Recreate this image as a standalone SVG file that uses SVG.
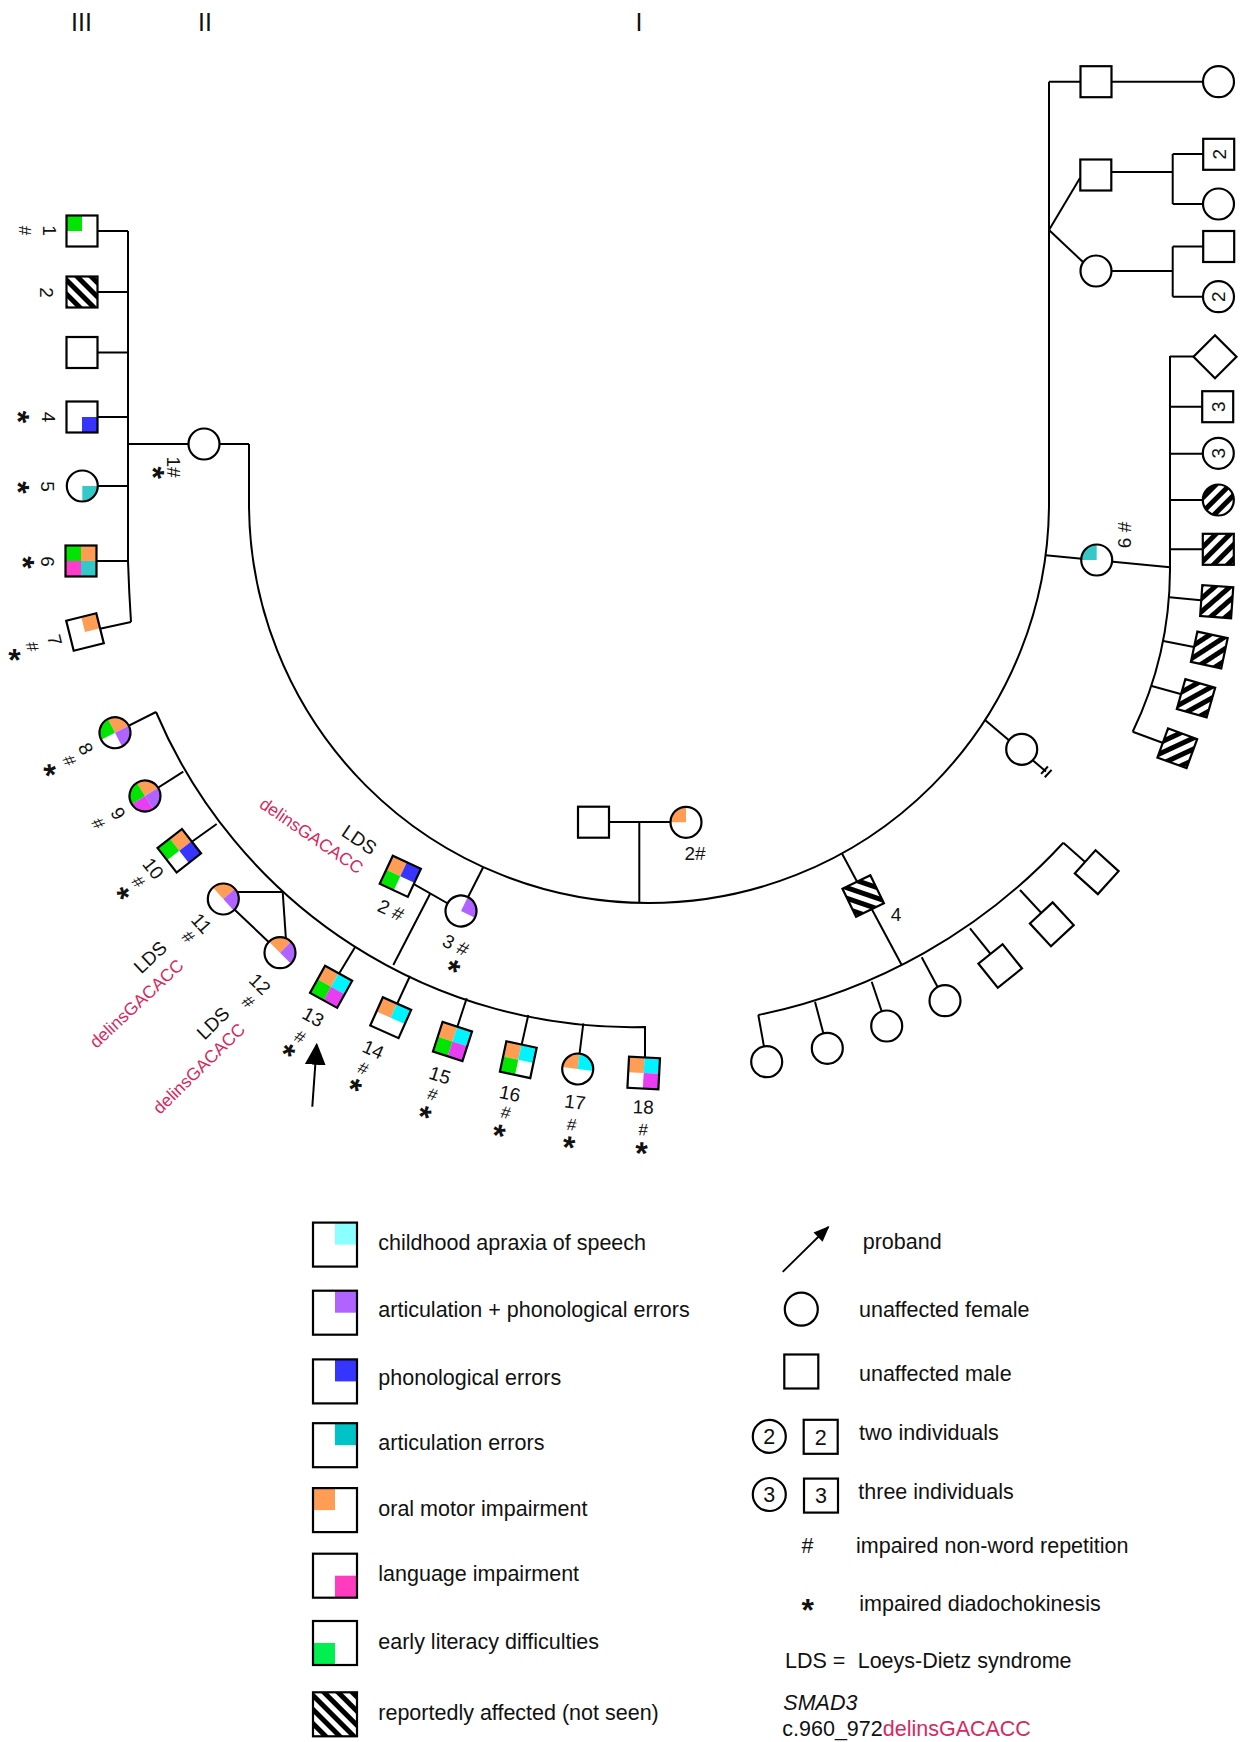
<svg xmlns="http://www.w3.org/2000/svg" xmlns:xlink="http://www.w3.org/1999/xlink" width="1250" height="1742" viewBox="0 0 1250 1742">
<style>
.ln{fill:none;stroke:#000;stroke-width:2}
.bg{fill:#fff;stroke:none}
.ol{fill:none;stroke:#000;stroke-width:2.2}
.or{fill:#ff9d55}.pu{fill:#b063ff}.bl{fill:#3535ff}.te{fill:#35c8c8}.cy{fill:#00f4ff}.gr{fill:#00e600}.mg{fill:#e63ef0}.pk{fill:#ff3ccb}
.hb{fill:url(#hatchB)}.hf{fill:url(#hatchF)}
text{font-family:"Liberation Sans",Arial,Helvetica,sans-serif;fill:#111}
.num{font-size:19px}
.hs{font-size:17px}
.ast{font-size:32px;font-weight:bold}
.gen{font-size:25px}
.leg{font-size:21.5px}
.lds{font-size:19px}
.del{font-size:17.5px;fill:#d42a5f}
.red{fill:#d42a5f}
</style>
<defs>
<pattern id="hatchB" patternUnits="userSpaceOnUse" width="10" height="10" patternTransform="rotate(-45)"><rect width="10" height="10" fill="#fff"/><rect width="5" height="10" fill="#000"/></pattern>
<pattern id="hatchF" patternUnits="userSpaceOnUse" width="10" height="10" patternTransform="rotate(45)"><rect width="10" height="10" fill="#fff"/><rect width="5" height="10" fill="#000"/></pattern>
<rect id="S" x="-15.5" y="-15.5" width="31" height="31"/>
<circle id="C" r="15.5"/>
<rect id="sTL" x="-15.5" y="-15.5" width="15.5" height="15.5"/>
<rect id="sTR" x="0" y="-15.5" width="15.5" height="15.5"/>
<rect id="sBL" x="-15.5" y="0" width="15.5" height="15.5"/>
<rect id="sBR" x="0" y="0" width="15.5" height="15.5"/>
<path id="cTL" d="M0,0 L-15.5,0 A15.5,15.5 0 0 1 0,-15.5 Z"/>
<path id="cTR" d="M0,0 L0,-15.5 A15.5,15.5 0 0 1 15.5,0 Z"/>
<path id="cBR" d="M0,0 L15.5,0 A15.5,15.5 0 0 1 0,15.5 Z"/>
<path id="cBL" d="M0,0 L0,15.5 A15.5,15.5 0 0 1 -15.5,0 Z"/>
<marker id="arrBig" markerUnits="userSpaceOnUse" markerWidth="22" markerHeight="22" viewBox="0 0 20 20" refX="18" refY="10" orient="auto"><path d="M0,0.5 L20,10 L0,19.5 Z" fill="#000"/></marker>
<marker id="arrSmall" markerUnits="userSpaceOnUse" markerWidth="16" markerHeight="16" viewBox="0 0 20 20" refX="18" refY="10" orient="auto"><path d="M0,2 L20,10 L0,18 Z" fill="#000"/></marker>
</defs>

<g id="generation-labels">
<text class="gen" x="81.5" y="31" text-anchor="middle">III</text>
<text class="gen" x="205" y="31" text-anchor="middle">II</text>
<text class="gen" x="639" y="31" text-anchor="middle">I</text>
</g>

<g id="connectors" class="ln">
<path d="M249,444 L249,503 A400,400 0 0 0 1049,503 L1049,81.7"/>
<line x1="128" y1="444" x2="249" y2="444"/>
<line x1="593.5" y1="822" x2="686" y2="822"/>
<line x1="639.3" y1="822" x2="639.3" y2="903"/>
<line x1="461" y1="911" x2="483.3" y2="867"/>
<line x1="841.7" y1="853" x2="901.7" y2="965"/>
<line x1="985" y1="720" x2="1046" y2="771.5"/>
<line x1="1041.1" y1="773.9" x2="1047.9" y2="766.5"/>
<line x1="1044.8" y1="777.3" x2="1051.6" y2="769.9"/>
<line x1="1045.6" y1="555.3" x2="1170" y2="567.3"/>
<line x1="1049" y1="81.7" x2="1218.5" y2="81.7"/>
<line x1="1049" y1="230" x2="1080" y2="178"/>
<line x1="1049" y1="230" x2="1083" y2="262"/>
<line x1="1096" y1="172" x2="1172.7" y2="172"/>
<line x1="1172.7" y1="154" x2="1172.7" y2="204"/>
<line x1="1172.7" y1="154" x2="1218.7" y2="154"/>
<line x1="1172.7" y1="204" x2="1218.5" y2="204"/>
<line x1="1096" y1="271" x2="1172.7" y2="271"/>
<line x1="1172.7" y1="246.5" x2="1172.7" y2="296.7"/>
<line x1="1172.7" y1="246.5" x2="1218.7" y2="246.5"/>
<line x1="1172.7" y1="296.7" x2="1218.5" y2="296.7"/>
<path d="M1170,356 L1170,570 A375,375 0 0 1 1132.7,731.7"/>
<line x1="1170" y1="356.5" x2="1215" y2="356.5"/>
<line x1="1170" y1="406.7" x2="1217.7" y2="406.7"/>
<line x1="1170" y1="453.8" x2="1218.3" y2="453.8"/>
<line x1="1170" y1="500" x2="1218.3" y2="500"/>
<line x1="1170" y1="549.3" x2="1218.3" y2="549.3"/>
<line x1="1169.5" y1="597.3" x2="1216.7" y2="601.7"/>
<line x1="1163.3" y1="641" x2="1209.3" y2="650"/>
<line x1="1151.7" y1="686" x2="1196" y2="698.3"/>
<line x1="1132.7" y1="731.7" x2="1177.3" y2="748.3"/>
<path d="M128,231 L128,561 Q129,592 131,622"/>
<line x1="82" y1="231" x2="128" y2="231"/>
<line x1="82" y1="292" x2="128" y2="292"/>
<line x1="82" y1="352.5" x2="128" y2="352.5"/>
<line x1="82" y1="417" x2="128" y2="417"/>
<line x1="82" y1="486" x2="128" y2="486"/>
<line x1="81" y1="561" x2="128" y2="561"/>
<line x1="85" y1="632" x2="131" y2="622"/>
<path d="M156,712 A517,517 0 0 0 645,1027 L645,1073"/>
<line x1="156" y1="712" x2="115" y2="732.7"/>
<line x1="183.3" y1="771.7" x2="145" y2="796"/>
<line x1="216.7" y1="824" x2="179.3" y2="850.7"/>
<line x1="282.7" y1="892" x2="228" y2="892"/>
<line x1="282.7" y1="892" x2="286" y2="940"/>
<line x1="223.3" y1="899" x2="280" y2="952.7"/>
<line x1="355" y1="947.3" x2="331.1" y2="986.8"/>
<line x1="410" y1="976" x2="390.7" y2="1017.7"/>
<line x1="466.7" y1="998.3" x2="452.5" y2="1041.5"/>
<line x1="528.3" y1="1015" x2="518.3" y2="1059.7"/>
<line x1="583.3" y1="1023.3" x2="577.7" y2="1069"/>
<line x1="400.3" y1="876.3" x2="461" y2="911"/>
<line x1="430" y1="894" x2="393.3" y2="965"/>
<path d="M758.3,1015 A571,571 0 0 0 1063.3,842.7"/>
<line x1="758.3" y1="1015" x2="766.7" y2="1061.7"/>
<line x1="815" y1="1001.7" x2="827.3" y2="1048.3"/>
<line x1="871.7" y1="981.7" x2="886.7" y2="1026"/>
<line x1="921.7" y1="957.3" x2="945" y2="1000.7"/>
<line x1="970" y1="928.3" x2="1000.2" y2="966"/>
<line x1="1020" y1="890" x2="1051.8" y2="924.3"/>
<line x1="1063.3" y1="842.7" x2="1096.7" y2="872.2"/>
</g>

<!-- Generation III, left column -->
<g id="III-1" transform="translate(82,231) rotate(90)"><use href="#S" class="bg"/><use href="#sBL" class="gr"/><use href="#S" class="ol"/></g>
<g id="III-2" transform="translate(82,292) rotate(90)"><use href="#S" class="hf"/><use href="#S" class="ol"/></g>
<g id="III-3" transform="translate(82,352.5) rotate(90)"><use href="#S" class="bg"/><use href="#S" class="ol"/></g>
<g id="III-4" transform="translate(82,417) rotate(90)"><use href="#S" class="bg"/><use href="#sTR" class="bl"/><use href="#S" class="ol"/></g>
<g id="III-5" transform="translate(82.3,486) rotate(90)"><use href="#C" class="bg"/><use href="#cTR" class="te"/><use href="#C" class="ol"/></g>
<g id="III-6" transform="translate(81,561) rotate(90)"><use href="#S" class="bg"/><use href="#sTL" class="or"/><use href="#sTR" class="te"/><use href="#sBL" class="gr"/><use href="#sBR" class="pk"/><use href="#S" class="ol"/></g>
<g id="III-7" transform="translate(85,632) rotate(76)"><use href="#S" class="bg"/><use href="#sTL" class="or"/><use href="#S" class="ol"/></g>

<g id="labels-III-left">
<text class="num" text-anchor="middle" transform="translate(50,230.5) rotate(90)" y="6.8">1</text>
<text class="hs" text-anchor="middle" transform="translate(25,230.5) rotate(90)" y="6">#</text>
<text class="num" text-anchor="middle" transform="translate(46.5,292.5) rotate(90)" y="6.8">2</text>
<text class="num" text-anchor="middle" transform="translate(49,417) rotate(90)" y="6.8">4</text>
<text class="ast" text-anchor="middle" transform="translate(25,417) rotate(90)" y="18.3">*</text>
<text class="num" text-anchor="middle" transform="translate(48,486.5) rotate(90)" y="6.8">5</text>
<text class="ast" text-anchor="middle" transform="translate(25,487.5) rotate(90)" y="18.3">*</text>
<text class="num" text-anchor="middle" transform="translate(48,561.5) rotate(90)" y="6.8">6</text>
<text class="ast" text-anchor="middle" transform="translate(30,562.5) rotate(90)" y="18.3">*</text>
<text class="num" text-anchor="middle" transform="translate(55,640) rotate(76)" y="6.8">7</text>
<text class="hs" text-anchor="middle" transform="translate(32.5,646.7) rotate(76)" y="6">#</text>
<text class="ast" text-anchor="middle" x="14.5" y="670.5">*</text>
</g>

<!-- Generation II -->
<g id="II-1" transform="translate(204,444) rotate(90)"><use href="#C" class="bg"/><use href="#C" class="ol"/>
</g>
<g id="II-1-label">
<text class="num" text-anchor="middle" transform="translate(174,467) rotate(90)" y="6.8">1#</text>
<text class="ast" text-anchor="middle" transform="translate(160.7,472.7) rotate(90)" y="18.3">*</text>
</g>
<g id="II-2" transform="translate(400.3,876.3) rotate(25)"><use href="#S" class="bg"/><use href="#sTL" class="or"/><use href="#sTR" class="bl"/><use href="#sBL" class="gr"/><use href="#S" class="ol"/></g>
<g id="II-2-label">
<text class="num" text-anchor="middle" transform="translate(391,910) rotate(25)" y="6.8">2 #</text>
<g transform="translate(357.9,874.6) rotate(34.3)"><text class="del" text-anchor="end">delinsGACACC</text><text class="lds" text-anchor="end" y="-23">LDS</text></g>
</g>
<g id="II-3" transform="translate(461,911) rotate(26)"><use href="#C" class="bg"/><use href="#cTR" class="pu"/><use href="#C" class="ol"/></g>
<g id="II-3-label">
<text class="num" text-anchor="middle" transform="translate(455.8,945) rotate(26)" y="6.8">3 #</text>
<text class="ast" text-anchor="middle" transform="translate(455,964) rotate(26)" y="18.3">*</text>
</g>
<g id="II-4" transform="translate(863.2,896) rotate(-26)"><use href="#S" class="hb"/><use href="#S" class="ol"/></g>
<text id="II-4-label" class="num" text-anchor="middle" x="896" y="920.8">4</text>
<g id="II-5" transform="translate(1021.7,749.3)"><use href="#C" class="bg"/><use href="#C" class="ol"/></g>
<g id="II-6" transform="translate(1096.7,560) rotate(-90)"><use href="#C" class="bg"/><use href="#cTR" class="te"/><use href="#C" class="ol"/></g>
<text id="II-6-label" class="num" text-anchor="middle" transform="translate(1124,535) rotate(-90)" y="6.8">6 #</text>
<g id="II-7" transform="translate(1096,81.7)"><use href="#S" class="bg"/><use href="#S" class="ol"/></g>
<g id="II-7-spouse" transform="translate(1218.5,81.7)"><use href="#C" class="bg"/><use href="#C" class="ol"/></g>
<g id="II-8" transform="translate(1095.8,175)"><use href="#S" class="bg"/><use href="#S" class="ol"/></g>
<g id="II-9" transform="translate(1096,271)"><use href="#C" class="bg"/><use href="#C" class="ol"/></g>

<!-- Generation I -->
<g id="I-1" transform="translate(593.5,822.2)"><use href="#S" class="bg"/><use href="#S" class="ol"/></g>
<g id="I-2" transform="translate(686,822.3)"><use href="#C" class="bg"/><use href="#cTL" class="or"/><use href="#C" class="ol"/></g>
<text id="I-2-label" class="num" text-anchor="middle" x="695" y="860">2#</text>

<!-- Generation III, children of II-2 and II-3 -->
<g id="III-8" transform="translate(115,732.7) rotate(63)"><use href="#C" class="bg"/><use href="#cTL" class="or"/><use href="#cTR" class="pu"/><use href="#cBL" class="gr"/><use href="#C" class="ol"/></g>
<g id="III-9" transform="translate(145,796) rotate(58)"><use href="#C" class="bg"/><use href="#cTL" class="or"/><use href="#cTR" class="pu"/><use href="#cBL" class="gr"/><use href="#cBR" class="mg"/><use href="#C" class="ol"/></g>
<g id="III-10" transform="translate(179.3,850.7) rotate(52)"><use href="#S" class="bg"/><use href="#sTL" class="or"/><use href="#sTR" class="bl"/><use href="#sBL" class="gr"/><use href="#S" class="ol"/></g>
<g id="III-11" transform="translate(223.3,899) rotate(48)"><use href="#C" class="bg"/><use href="#cTL" class="or"/><use href="#cTR" class="pu"/><use href="#C" class="ol"/></g>
<g id="III-12" transform="translate(280,952.7) rotate(45)"><use href="#C" class="bg"/><use href="#cTL" class="or"/><use href="#cTR" class="pu"/><use href="#C" class="ol"/></g>
<g id="III-13" transform="translate(331.1,986.8) rotate(29)"><use href="#S" class="bg"/><use href="#sTL" class="or"/><use href="#sTR" class="cy"/><use href="#sBL" class="gr"/><use href="#sBR" class="mg"/><use href="#S" class="ol"/></g>
<g id="III-14" transform="translate(390.7,1017.7) rotate(24)"><use href="#S" class="bg"/><use href="#sTL" class="or"/><use href="#sTR" class="cy"/><use href="#S" class="ol"/></g>
<g id="III-15" transform="translate(452.5,1041.5) rotate(18)"><use href="#S" class="bg"/><use href="#sTL" class="or"/><use href="#sTR" class="cy"/><use href="#sBL" class="gr"/><use href="#sBR" class="mg"/><use href="#S" class="ol"/></g>
<g id="III-16" transform="translate(518.3,1059.7) rotate(12)"><use href="#S" class="bg"/><use href="#sTL" class="or"/><use href="#sTR" class="cy"/><use href="#sBL" class="gr"/><use href="#S" class="ol"/></g>
<g id="III-17" transform="translate(577.7,1069) rotate(7)"><use href="#C" class="bg"/><use href="#cTL" class="or"/><use href="#cTR" class="cy"/><use href="#C" class="ol"/></g>
<g id="III-18" transform="translate(643.7,1073) rotate(3)"><use href="#S" class="bg"/><use href="#sTL" class="or"/><use href="#sTR" class="cy"/><use href="#sBR" class="mg"/><use href="#S" class="ol"/></g>

<g id="labels-III-bottom">
<text class="num" text-anchor="middle" transform="translate(86,748.5) rotate(63)" y="6.8">8</text>
<text class="hs" text-anchor="middle" transform="translate(69.5,760.5) rotate(63)" y="6">#</text>
<text class="ast" text-anchor="middle" transform="translate(52,769) rotate(63)" y="18.3">*</text>
<text class="num" text-anchor="middle" transform="translate(118.3,813.3) rotate(58)" y="6.8">9</text>
<text class="hs" text-anchor="middle" transform="translate(98.3,823.3) rotate(58)" y="6">#</text>
<text class="num" text-anchor="middle" transform="translate(153.3,868.3) rotate(52)" y="6.8">10</text>
<text class="hs" text-anchor="middle" transform="translate(138.3,881.7) rotate(52)" y="6">#</text>
<text class="ast" text-anchor="middle" transform="translate(125,891.7) rotate(52)" y="18.3">*</text>
<text class="num" text-anchor="middle" transform="translate(201.7,923.3) rotate(48)" y="6.8">11</text>
<text class="hs" text-anchor="middle" transform="translate(188.3,936.7) rotate(48)" y="6">#</text>
<g transform="translate(184.7,966.8) rotate(-43)"><text class="del" text-anchor="end">delinsGACACC</text><text class="lds" text-anchor="end" y="-24">LDS</text></g>
<text class="num" text-anchor="middle" transform="translate(260,984) rotate(45)" y="6.8">12</text>
<text class="hs" text-anchor="middle" transform="translate(248.3,1001.7) rotate(45)" y="6">#</text>
<g transform="translate(246.2,1030.6) rotate(-44.4)"><text class="del" text-anchor="end">delinsGACACC</text><text class="lds" text-anchor="end" y="-22">LDS</text></g>
<text class="num" text-anchor="middle" transform="translate(313.3,1016.7) rotate(29)" y="6.8">13</text>
<text class="hs" text-anchor="middle" transform="translate(300,1036.7) rotate(29)" y="6">#</text>
<text class="ast" text-anchor="middle" transform="translate(290,1048.3) rotate(29)" y="18.3">*</text>
<text class="num" text-anchor="middle" transform="translate(373.3,1049.3) rotate(24)" y="6.8">14</text>
<text class="hs" text-anchor="middle" transform="translate(363.3,1068.3) rotate(24)" y="6">#</text>
<text class="ast" text-anchor="middle" transform="translate(356.7,1082.7) rotate(24)" y="18.3">*</text>
<text class="num" text-anchor="middle" transform="translate(440,1075) rotate(18)" y="6.8">15</text>
<text class="hs" text-anchor="middle" transform="translate(432.7,1094.3) rotate(18)" y="6">#</text>
<text class="ast" text-anchor="middle" transform="translate(426,1110) rotate(18)" y="18.3">*</text>
<text class="num" text-anchor="middle" transform="translate(510,1093.3) rotate(12)" y="6.8">16</text>
<text class="hs" text-anchor="middle" transform="translate(506,1112.3) rotate(12)" y="6">#</text>
<text class="ast" text-anchor="middle" transform="translate(500,1128.3) rotate(12)" y="18.3">*</text>
<text class="num" text-anchor="middle" transform="translate(575,1101.7) rotate(7)" y="6.8">17</text>
<text class="hs" text-anchor="middle" transform="translate(571.7,1124.3) rotate(7)" y="6">#</text>
<text class="ast" text-anchor="middle" transform="translate(569.3,1140) rotate(7)" y="18.3">*</text>
<text class="num" text-anchor="middle" transform="translate(643.3,1106.7) rotate(2)" y="6.8">18</text>
<text class="hs" text-anchor="middle" transform="translate(643.3,1129.3) rotate(2)" y="6">#</text>
<text class="ast" text-anchor="middle" transform="translate(641.7,1146) rotate(2)" y="18.3">*</text>
</g>

<g id="proband-arrow"><line x1="312.3" y1="1106.7" x2="316.7" y2="1045" stroke="#000" stroke-width="2" marker-end="url(#arrBig)"/></g>

<!-- Generation III, children of II-4 -->
<g id="III-4a" transform="translate(766.7,1061.7)"><use href="#C" class="bg"/><use href="#C" class="ol"/></g>
<g id="III-4b" transform="translate(827.3,1048.3)"><use href="#C" class="bg"/><use href="#C" class="ol"/></g>
<g id="III-4c" transform="translate(886.7,1026)"><use href="#C" class="bg"/><use href="#C" class="ol"/></g>
<g id="III-4d" transform="translate(945,1000.7)"><use href="#C" class="bg"/><use href="#C" class="ol"/></g>
<g id="III-4e" transform="translate(1000.2,966) rotate(-38.7)"><use href="#S" class="bg"/><use href="#S" class="ol"/></g>
<g id="III-4f" transform="translate(1051.8,924.3) rotate(-42.8)"><use href="#S" class="bg"/><use href="#S" class="ol"/></g>
<g id="III-4g" transform="translate(1096.7,872.2) rotate(-48)"><use href="#S" class="bg"/><use href="#S" class="ol"/></g>

<!-- Generation III, right side -->
<g id="III-8a" transform="translate(1218.7,154.3) rotate(-90)"><use href="#S" class="bg"/><use href="#S" class="ol"/><text class="num" text-anchor="middle" y="6.8">2</text></g>
<g id="III-8b" transform="translate(1218.5,204)"><use href="#C" class="bg"/><use href="#C" class="ol"/></g>
<g id="III-9a" transform="translate(1218.7,246.5)"><use href="#S" class="bg"/><use href="#S" class="ol"/></g>
<g id="III-9b" transform="translate(1218.5,296.7) rotate(-90)"><use href="#C" class="bg"/><use href="#C" class="ol"/><text class="num" text-anchor="middle" y="6.8">2</text></g>
<g id="III-6a" transform="translate(1215,356.7)"><polygon points="0,-21.5 21.5,0 0,21.5 -21.5,0" fill="#fff" stroke="#000" stroke-width="2.2"/></g>
<g id="III-6b" transform="translate(1217.7,406.7) rotate(-90)"><use href="#S" class="bg"/><use href="#S" class="ol"/><text class="num" text-anchor="middle" y="6.8">3</text></g>
<g id="III-6c" transform="translate(1218.3,453.3) rotate(-90)"><use href="#C" class="bg"/><use href="#C" class="ol"/><text class="num" text-anchor="middle" y="6.8">3</text></g>
<g id="III-6d" transform="translate(1218.3,500) rotate(-90)"><use href="#C" class="hb"/><use href="#C" class="ol"/></g>
<g id="III-6e" transform="translate(1218.3,549.3) rotate(-90)"><use href="#S" class="hb"/><use href="#S" class="ol"/></g>
<g id="III-6f" transform="translate(1216.7,601.7) rotate(-86)"><use href="#S" class="hb"/><use href="#S" class="ol"/></g>
<g id="III-6g" transform="translate(1209.3,650) rotate(-78)"><use href="#S" class="hb"/><use href="#S" class="ol"/></g>
<g id="III-6h" transform="translate(1196,698.3) rotate(-74)"><use href="#S" class="hb"/><use href="#S" class="ol"/></g>
<g id="III-6i" transform="translate(1177.3,748.3) rotate(-70)"><use href="#S" class="hb"/><use href="#S" class="ol"/></g>

<!-- Legend -->
<g id="legend-cas"><rect x="313" y="1222.6" width="44" height="44" fill="#fff"/><rect x="335" y="1222.6" width="22" height="22" fill="#8cffff"/><rect x="313" y="1222.6" width="44" height="44" class="ol"/><text class="leg" x="378.3" y="1249.6">childhood apraxia of speech</text></g>
<g id="legend-artphon"><rect x="313" y="1290.7" width="44" height="44" fill="#fff"/><rect x="335" y="1290.7" width="22" height="22" class="pu"/><rect x="313" y="1290.7" width="44" height="44" class="ol"/><text class="leg" x="378.3" y="1317">articulation + phonological errors</text></g>
<g id="legend-phon"><rect x="313" y="1359.4" width="44" height="44" fill="#fff"/><rect x="335" y="1359.4" width="22" height="22" class="bl"/><rect x="313" y="1359.4" width="44" height="44" class="ol"/><text class="leg" x="378.3" y="1385.4">phonological errors</text></g>
<g id="legend-art"><rect x="313" y="1423.2" width="44" height="44" fill="#fff"/><rect x="335" y="1423.2" width="22" height="22" fill="#00c3c8"/><rect x="313" y="1423.2" width="44" height="44" class="ol"/><text class="leg" x="378.3" y="1449.6">articulation errors</text></g>
<g id="legend-oral"><rect x="313" y="1488.1" width="44" height="44" fill="#fff"/><rect x="313" y="1488.1" width="22" height="22" class="or"/><rect x="313" y="1488.1" width="44" height="44" class="ol"/><text class="leg" x="378.3" y="1516.2">oral motor impairment</text></g>
<g id="legend-lang"><rect x="313" y="1553.7" width="44" height="44" fill="#fff"/><rect x="335" y="1575.7" width="22" height="22" fill="#ff3cc0"/><rect x="313" y="1553.7" width="44" height="44" class="ol"/><text class="leg" x="378.3" y="1581.1">language impairment</text></g>
<g id="legend-lit"><rect x="313" y="1621" width="44" height="44" fill="#fff"/><rect x="313" y="1643" width="22" height="22" fill="#00f050"/><rect x="313" y="1621" width="44" height="44" class="ol"/><text class="leg" x="378.3" y="1648.8">early literacy difficulties</text></g>
<g id="legend-rep"><rect x="313" y="1692.3" width="44" height="44" class="hb"/><rect x="313" y="1692.3" width="44" height="44" class="ol"/><text class="leg" x="378.3" y="1719.6">reportedly affected (not seen)</text></g>

<g id="legend-proband"><line x1="782.7" y1="1271.9" x2="828.3" y2="1227" stroke="#000" stroke-width="1.8" marker-end="url(#arrSmall)"/><text class="leg" x="862.7" y="1249.4">proband</text></g>
<g id="legend-female"><circle cx="801.3" cy="1309.2" r="16.5" fill="#fff" class="ol"/><text class="leg" x="859" y="1316.8">unaffected female</text></g>
<g id="legend-male"><rect x="784.3" y="1354.5" width="34" height="34" fill="#fff" class="ol"/><text class="leg" x="859" y="1380.8">unaffected male</text></g>
<g id="legend-two"><circle cx="769.3" cy="1436.4" r="16.5" class="ol"/><text class="leg" x="769.3" y="1444" text-anchor="middle">2</text><rect x="803.7" y="1419.8" width="34" height="34" class="ol"/><text class="leg" x="820.7" y="1444.5" text-anchor="middle">2</text><text class="leg" x="859" y="1439.5">two individuals</text></g>
<g id="legend-three"><circle cx="769.3" cy="1494.5" r="16.5" class="ol"/><text class="leg" x="769.3" y="1502.2" text-anchor="middle">3</text><rect x="804" y="1478.6" width="34" height="34" class="ol"/><text class="leg" x="821" y="1503.3" text-anchor="middle">3</text><text class="leg" x="858.3" y="1499.3">three individuals</text></g>
<g id="legend-hash"><text class="leg" x="807.5" y="1553.3" text-anchor="middle">#</text><text class="leg" x="856" y="1553.3">impaired non-word repetition</text></g>
<g id="legend-ast"><text class="ast" x="807.7" y="1620.5" text-anchor="middle">*</text><text class="leg" x="859.3" y="1611.3">impaired diadochokinesis</text></g>
<g id="legend-lds"><text class="leg" x="785" y="1668.4">LDS =</text><text class="leg" x="857.7" y="1668.4">Loeys-Dietz syndrome</text></g>
<g id="legend-smad3"><text class="leg" x="783.3" y="1709.9" font-style="italic">SMAD3</text><text class="leg" x="782.3" y="1735.8">c.960_972<tspan class="red">delinsGACACC</tspan></text></g>
</svg>
